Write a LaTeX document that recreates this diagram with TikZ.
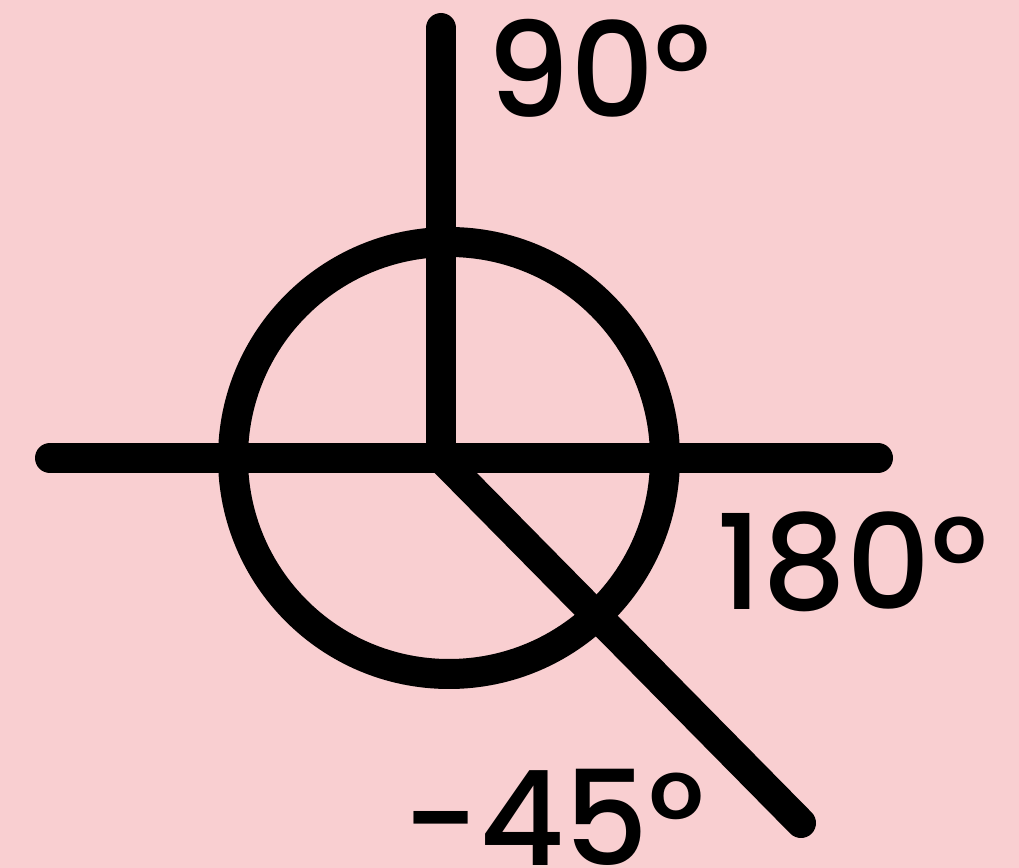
\documentclass[tikz,border=0pt]{standalone}
\usepackage{fontspec}
\setmainfont{Poppins}[UprightFont=* Medium]
\usepackage{tikz}
\definecolor{bgpink}{RGB}{249,207,209}
\begin{document}
\begin{tikzpicture}[x=0.02cm,y=-0.02cm]
                \tikzstyle{axis}=[line width=0.6cm,line cap=round]
                \tikzstyle{angle}=[anchor=base west,inner sep=0pt,font=\fontsize{75}{75}\selectfont]
                \fill[bgpink] (0,0) rectangle (1019,868);
                \useasboundingbox (0,0) rectangle (1019,868);
                \coordinate (o) at (441,458);
                \coordinate (top) at (441,28);
                \coordinate (left) at (50,458);
                \coordinate (right) at (878,458);
                \coordinate (low) at (801,823);
                \coordinate (c) at (449,458);
                \draw[line width=0.6cm] (c) circle (216);
                \draw[axis] (left) -- (right);
                \draw[axis] (top) -- (o) -- (low);
                \node[angle] (a90) at (486,118) {90°};
                \node[angle] (a180) at (716,610) {180°};
                \node[angle] (a45) at (402,865) {-45°};
            \end{tikzpicture}
\end{document}
